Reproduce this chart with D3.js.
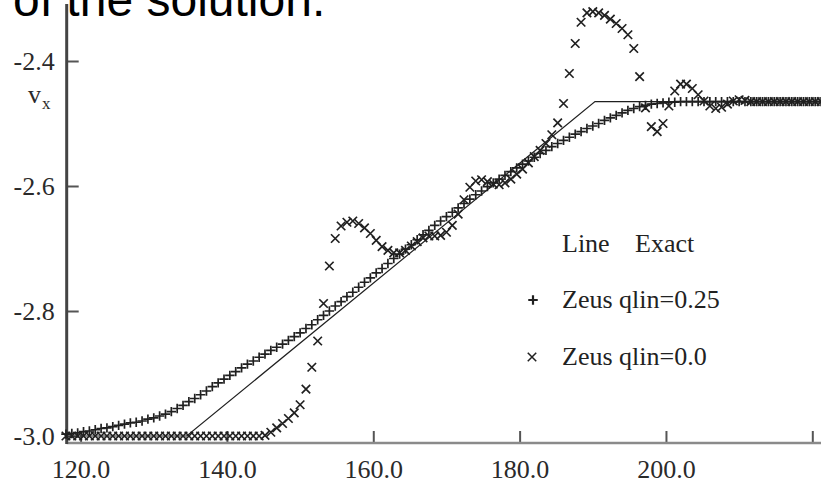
<!DOCTYPE html>
<html>
<head>
<meta charset="utf-8">
<script src="https://cdn.jsdelivr.net/npm/d3@7"></script>
<style>
  html, body { margin: 0; padding: 0; background: #fff; }
  svg { display: block; }
</style>
</head>
<body>
<svg id="chart" width="821" height="485"></svg>
<script>
// Tick values
const xTicks = [120, 140, 160, 180, 200, 220];
const yTicks = [-3.0, -2.8, -2.6, -2.4];

// Mesh positions shared by both Zeus runs
const meshX = [
  118.0,118.8,119.6,120.4,121.2,122.0,122.8,123.6,124.4,125.2,
  126.0,126.8,127.6,128.4,129.2,130.0,130.8,131.6,132.4,133.2,
  134.0,134.8,135.6,136.4,137.2,138.0,138.8,139.6,140.4,141.2,
  142.0,142.8,143.6,144.4,145.2,146.0,146.8,147.6,148.4,149.2,
  150.0,150.8,151.6,152.4,153.2,154.0,154.8,155.6,156.4,157.2,
  158.0,158.8,159.6,160.4,161.2,162.0,162.8,163.6,164.4,165.2,
  166.0,166.8,167.6,168.4,169.2,170.0,170.8,171.6,172.4,173.2,
  174.0,174.8,175.6,176.4,177.2,178.0,178.8,179.6,180.4,181.2,
  182.0,182.8,183.6,184.4,185.2,186.0,186.8,187.6,188.4,189.2,
  190.0,190.8,191.6,192.4,193.2,194.0,194.8,195.6,196.4,197.2,
  198.0,198.8,199.6,200.4,201.2,202.0,202.8,203.6,204.4,205.2,
  206.0,206.8,207.6,208.4,209.2,210.0,210.8,211.6,212.4,213.2,
  214.0,214.8,215.6,216.4,217.2,218.0,218.8,219.6,220.4,221.2
];

// Exact solution (piecewise linear)
const exactX = [118.1, 134.5, 190.3, 221.2];
const exactV = [-3.0, -3.0, -2.465, -2.465];

// Zeus, qlin = 0.25
const zeusQ025 = [
  -2.997,-2.996,-2.995,-2.993,-2.992,-2.990,-2.988,-2.987,-2.985,-2.983,
  -2.981,-2.979,-2.978,-2.976,-2.973,-2.971,-2.968,-2.965,-2.961,-2.956,
  -2.951,-2.945,-2.940,-2.934,-2.928,-2.921,-2.915,-2.909,-2.903,-2.897,
  -2.891,-2.885,-2.880,-2.874,-2.869,-2.863,-2.858,-2.853,-2.847,-2.841,
  -2.835,-2.828,-2.822,-2.814,-2.807,-2.800,-2.792,-2.785,-2.777,-2.770,
  -2.762,-2.754,-2.747,-2.739,-2.732,-2.724,-2.716,-2.709,-2.701,-2.694,
  -2.686,-2.678,-2.671,-2.663,-2.656,-2.649,-2.642,-2.635,-2.628,-2.621,
  -2.614,-2.608,-2.601,-2.595,-2.589,-2.583,-2.577,-2.571,-2.565,-2.560,
  -2.554,-2.548,-2.543,-2.537,-2.532,-2.527,-2.522,-2.517,-2.513,-2.508,
  -2.504,-2.500,-2.495,-2.491,-2.487,-2.483,-2.479,-2.476,-2.473,-2.471,
  -2.469,-2.468,-2.467,-2.466,-2.466,-2.465,-2.465,-2.465,-2.465,-2.465,
  -2.465,-2.465,-2.465,-2.465,-2.465,-2.465,-2.465,-2.465,-2.465,-2.465,
  -2.465,-2.465,-2.465,-2.465,-2.465,-2.465,-2.465,-2.465,-2.465,-2.465
];

// Zeus, qlin = 0.0
const zeusQ000 = [
  -3.000,-3.000,-3.000,-3.000,-3.000,-3.000,-3.000,-3.000,-3.000,-3.000,
  -3.000,-3.000,-3.000,-3.000,-3.000,-3.000,-3.000,-3.000,-3.000,-3.000,
  -3.000,-3.000,-3.000,-3.000,-3.000,-3.000,-3.000,-3.000,-3.000,-3.000,
  -3.000,-3.000,-3.000,-3.000,-2.999,-2.994,-2.987,-2.980,-2.972,-2.963,
  -2.950,-2.925,-2.890,-2.848,-2.788,-2.728,-2.684,-2.664,-2.658,-2.656,
  -2.660,-2.667,-2.676,-2.687,-2.697,-2.703,-2.707,-2.707,-2.703,-2.696,
  -2.689,-2.683,-2.680,-2.680,-2.679,-2.674,-2.663,-2.645,-2.622,-2.602,
  -2.592,-2.590,-2.593,-2.597,-2.598,-2.595,-2.589,-2.581,-2.573,-2.563,
  -2.553,-2.543,-2.532,-2.518,-2.499,-2.468,-2.420,-2.372,-2.338,-2.323,
  -2.321,-2.323,-2.327,-2.333,-2.340,-2.348,-2.358,-2.380,-2.425,-2.475,
  -2.505,-2.513,-2.500,-2.472,-2.448,-2.437,-2.437,-2.444,-2.454,-2.464,
  -2.472,-2.476,-2.474,-2.469,-2.464,-2.462,-2.463,-2.465,-2.465,-2.465,
  -2.465,-2.465,-2.465,-2.465,-2.465,-2.465,-2.465,-2.465,-2.465,-2.465
];

const legendLabels = ["Zeus qlin=0.25", "Zeus qlin=0.0"];

const svg = d3.select("#chart");
svg.append("rect").attr("width", 821).attr("height", 485).attr("fill", "#fff");

const x = d3.scaleLinear().domain([120, 220]).range([80.6, 812.3]);
const y = d3.scaleLinear().domain([-3.0, -2.4]).range([436, 61]);

const axisX0 = x(118.1);   // left end of the frame
const axisY0 = 443;        // baseline of the frame
const serif = "'Liberation Serif', 'Times New Roman', serif";
const ink = "#202020";

// Slide heading above the plot
svg.append("text")
  .attr("x", 13).attr("y", 16)
  .attr("font-family", "'Liberation Sans', Arial, sans-serif")
  .attr("font-size", 48)
  .attr("fill", "#000")
  .text("of the solution.");

// Marker shapes
const plusType = { draw(ctx, size) { const r = Math.sqrt(size) / 2;
  ctx.moveTo(-r, 0); ctx.lineTo(r, 0); ctx.moveTo(0, -r); ctx.lineTo(0, r); } };
const timesType = { draw(ctx, size) { const r = Math.sqrt(size) / 2;
  ctx.moveTo(-r, -r); ctx.lineTo(r, r); ctx.moveTo(-r, r); ctx.lineTo(r, -r); } };
const plusPath = d3.symbol().type(plusType).size(90)();
const timesPath = d3.symbol().type(timesType).size(72)();

// Axes
const gx = svg.append("g").attr("transform", `translate(0,${axisY0})`)
  .call(d3.axisBottom(x).tickValues(xTicks).tickSize(-12).tickPadding(17)
    .tickFormat(d => d === 220 ? "" : d3.format(".1f")(d)));
gx.select(".domain").remove();
gx.selectAll(".tick line").attr("stroke", "#555").attr("stroke-width", 2);
gx.selectAll(".tick text").attr("font-family", serif).attr("font-size", 26).attr("fill", "#2a2a2a");

svg.append("line")
  .attr("x1", axisX0).attr("x2", 821).attr("y1", axisY0).attr("y2", axisY0)
  .attr("stroke", "#8a8a8a").attr("stroke-width", 2.5);

const gy = svg.append("g").attr("transform", `translate(${axisX0},0)`)
  .call(d3.axisLeft(y).tickValues(yTicks).tickSize(-12).tickPadding(12)
    .tickFormat(d3.format(".1f")));
gy.select(".domain").remove();
gy.selectAll(".tick line").attr("stroke", "#555").attr("stroke-width", 2);
gy.selectAll(".tick text").attr("font-family", serif).attr("font-size", 26).attr("fill", "#2a2a2a")
  .text(d => d3.format(".1f")(d).replace("−", "-"));

svg.append("line")
  .attr("x1", axisX0).attr("x2", axisX0).attr("y1", 4).attr("y2", axisY0 + 1)
  .attr("stroke", "#444").attr("stroke-width", 3);

// Axis label v_x
const vl = svg.append("text").attr("x", 28).attr("y", 103)
  .attr("font-family", serif).attr("fill", "#2a2a2a");
vl.append("tspan").attr("font-size", 26).text("v");
vl.append("tspan").attr("font-size", 17).attr("dy", 6).attr("dx", 1).text("x");

// Exact solution
const exactPts = exactX.map((d, i) => [d, exactV[i]]);
svg.append("path")
  .attr("d", d3.line().x(d => x(d[0])).y(d => y(d[1]))(exactPts))
  .attr("fill", "none").attr("stroke", ink).attr("stroke-width", 1.2);

// Zeus runs
const plot = svg.append("g").attr("fill", "none").attr("stroke", ink).attr("stroke-width", 1.7);
plot.selectAll("path.q025").data(meshX.map((d, i) => [d, zeusQ025[i]])).join("path")
  .attr("class", "q025").attr("d", plusPath)
  .attr("transform", d => `translate(${x(d[0])},${y(d[1])})`);
plot.selectAll("path.q000").data(meshX.map((d, i) => [d, zeusQ000[i]])).join("path")
  .attr("class", "q000").attr("d", timesPath)
  .attr("transform", d => `translate(${x(d[0])},${y(d[1])})`);

// Legend
const lg = svg.append("g").attr("font-family", serif).attr("font-size", 26).attr("fill", "#222");
lg.append("text").attr("x", 562).attr("y", 252).text("Line");
lg.append("text").attr("x", 635).attr("y", 252).text("Exact");
lg.append("text").attr("x", 562).attr("y", 308).text(legendLabels[0]);
lg.append("text").attr("x", 562).attr("y", 365).text(legendLabels[1]);
svg.append("path").attr("d", plusPath).attr("transform", "translate(533,300)")
  .attr("fill", "none").attr("stroke", ink).attr("stroke-width", 2.2);
svg.append("path").attr("d", timesPath).attr("transform", "translate(532,357)")
  .attr("fill", "none").attr("stroke", ink).attr("stroke-width", 1.5);
</script>
</body>
</html>
